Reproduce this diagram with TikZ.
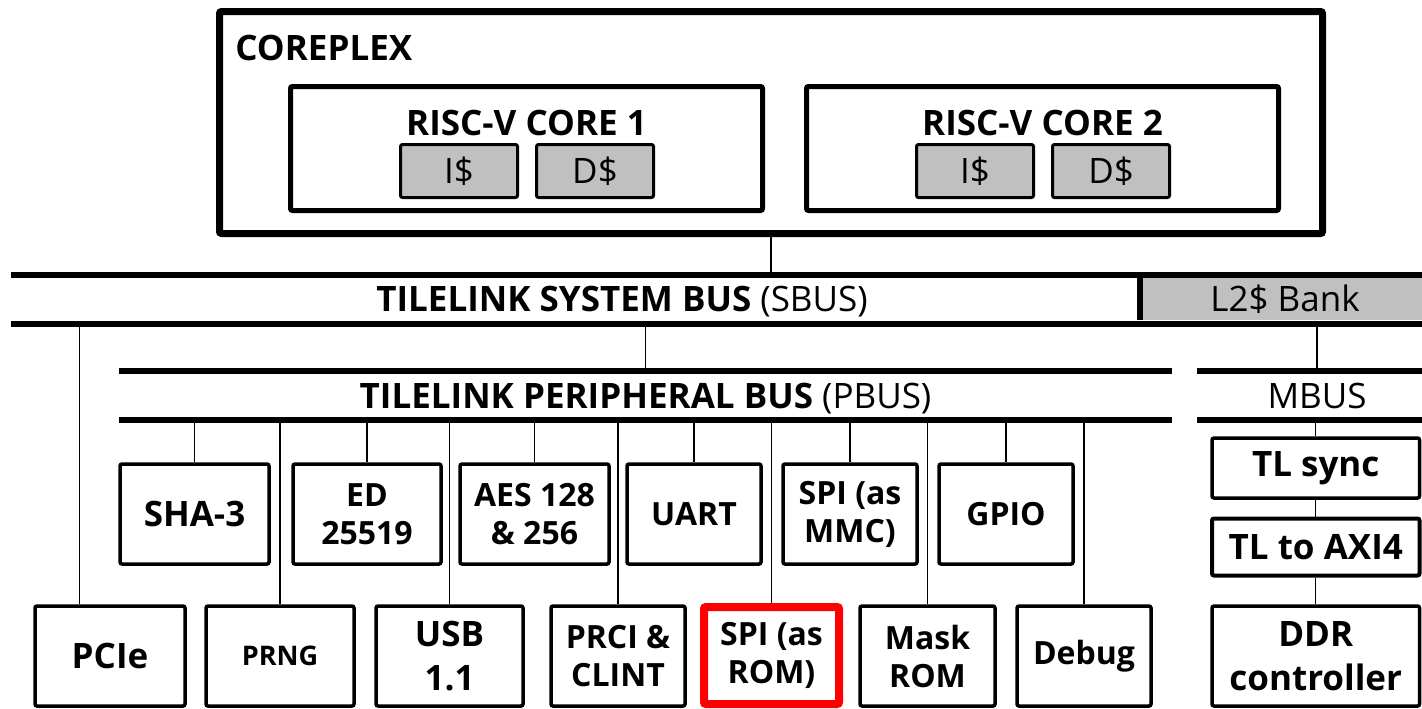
\documentclass[tikz,border=0pt]{standalone}
\usepackage{fontspec}
\setmainfont{Open Sans}
\usetikzlibrary{calc}
\definecolor{cachegray}{RGB}{192,192,192}
\definecolor{romred}{RGB}{255,0,0}
\tikzset{
    title/.style={
        inner sep=0pt,
        font=\fontsize{17.5}{21}\selectfont\bfseries
    },
    busline/.style={
        draw=black,
        line width=3pt
    },
    link/.style={
        draw=black,
        line width=0.7pt
    }
}

\begin{document}
\begin{tikzpicture}[x=0.5pt, y=-0.5pt,
    % the coreplex frame and the cores inside it
    cplx/.style={
        draw=black,
        line width=3.5pt,
        rounded corners=1pt,
        minimum width=551.5pt,
        minimum height=111pt
    },
    core/.style={
        draw=black,
        line width=2.5pt,
        rounded corners=1pt,
        minimum width=236pt,
        minimum height=62pt
    },
    cache/.style={
        draw=black,
        fill=cachegray,
        line width=1.5pt,
        rounded corners=1pt,
        minimum width=58.5pt,
        minimum height=26.5pt,
        inner sep=0pt,
        font=\fontsize{17.5}{21}\selectfont
    },
    % the bus bands
    bus/.style={
        inner sep=0pt,
        outer sep=0pt,
        minimum height=24.5pt,
        text height=12.5pt,
        text depth=0pt,
        font=\fontsize{17.5}{21}\selectfont
    },
    % the blocks hanging off the buses
    periph/.style={
        draw=black,
        line width=1.75pt,
        rounded corners=1pt,
        minimum height=50pt,
        align=center,
        inner sep=0pt,
        font=\fontsize{17.5}{21}\selectfont\bfseries
    },
    twoline/.style={
        font=\fontsize{16}{19}\selectfont\bfseries
    },
    bigtwoline/.style={
        font=\fontsize{17.5}{22}\selectfont\bfseries
    }
]
\useasboundingbox (0,0) rectangle (1422,708);

    % coreplex with two cores
    \node[cplx] (coreplex) at (771,122.5) {};
    \node[title, anchor=base west] (cplxname) at (235,60) {COREPLEX};
    \foreach \c/\x in {1/526.5, 2/1042.5} {
        \node[core] (core\c) at (\x,148.5) {};
        \node[title, anchor=base] (corename\c) at (\x,135) {RISC-V CORE \c};
        \node[cache] (icache\c) at (\x-67.5,171) {I\$};
        \node[cache] (dcache\c) at (\x+68.5,171) {D\$};
    }

    % system bus with the L2 bank
    \node[bus, minimum width=709.5pt] (sbus) at (720.5,299) {};
    \node[bus, fill=cachegray, minimum width=145pt, minimum height=21pt] (l2) at (1285,299) {L2\$ Bank};
    \draw[busline] (l2.north west) -- (l2.south west);
    \node[bus] (sbusname) at (622,299) {\textbf{TILELINK SYSTEM BUS} (SBUS)};

    % peripheral bus and memory bus
    \node[bus, minimum width=526.5pt] (pbus) at (645.5,395.5) {\textbf{TILELINK PERIPHERAL BUS} (PBUS)};
    \node[bus, minimum width=120pt] (mbus) at (1317,395.5) {MBUS};

    \foreach \b in {sbus,pbus,mbus} {
        \draw[busline] (\b.north west) -- (\b.north east);
        \draw[busline] (\b.south west) -- (\b.south east);
    }

    % middle row
    \node[periph, minimum width=74.5pt] (sha) at (194.5,514) {SHA-3};
    \node[periph, twoline, minimum width=74pt] (ed) at (367,514) {ED\\25519};
    \node[periph, twoline, minimum width=74.5pt] (aes) at (534.5,514) {AES 128\\\& 256};
    \node[periph, twoline, minimum width=67pt] (uart) at (694,514) {UART};
    \node[periph, twoline, minimum width=67pt] (mmc) at (850,514) {SPI (as\\MMC)};
    \node[periph, twoline, minimum width=67pt] (gpio) at (1006,514) {GPIO};

    % bottom row
    \node[periph, minimum width=75pt] (pcie) at (110,656) {PCIe};
    \node[periph, minimum width=74pt, font=\fontsize{13.5}{16}\selectfont\bfseries] (prng) at (280,656) {PRNG};
    \node[periph, bigtwoline, minimum width=73.5pt] (usb) at (449.5,656) {USB\\1.1};
    \node[periph, twoline, minimum width=67pt] (prci) at (618,656) {PRCI \&\\CLINT};
    \node[periph, twoline, draw=romred, line width=4pt, minimum width=67.5pt, minimum height=48.5pt] (rom) at (771.5,655.5) {SPI (as\\ROM)};
    \node[periph, twoline, minimum width=67.5pt] (mask) at (927.5,656) {Mask\\ROM};
    \node[periph, twoline, minimum width=67pt] (debug) at (1084,656) {Debug};

    % memory side
    \node[periph, minimum width=103.75pt, minimum height=30pt] (sync) at (1315.75,468) {TL sync};
    \node[periph, line width=2pt, minimum width=103.75pt, minimum height=28.5pt] (axi) at (1315.75,547) {TL to AXI4};
    \node[periph, bigtwoline, minimum width=103.75pt] (ddr) at (1315.75,656) {DDR\\controller};

    % connections
    \begin{scope}[link]
        \draw (coreplex.south) -- (coreplex.south |- sbus.north);
        \coordinate (pcietap) at ($(pcie.north west)!0.3!(pcie.north east)$);
        \draw (pcietap) -- (pcietap |- sbus.south);
        \draw (pbus.north) -- (pbus.north |- sbus.south);
        \draw (mbus.north) -- (mbus.north |- sbus.south);
        \foreach \p in {sha,prng,ed,usb,aes,prci,uart,rom,mmc,mask,gpio,debug}
            \draw (\p.north) -- (\p.north |- pbus.south);
        \draw (sync.north) -- (sync.north |- mbus.south);
        \draw (sync) -- (axi);
        \draw (axi) -- (ddr);
    \end{scope}

\end{tikzpicture}
\end{document}
